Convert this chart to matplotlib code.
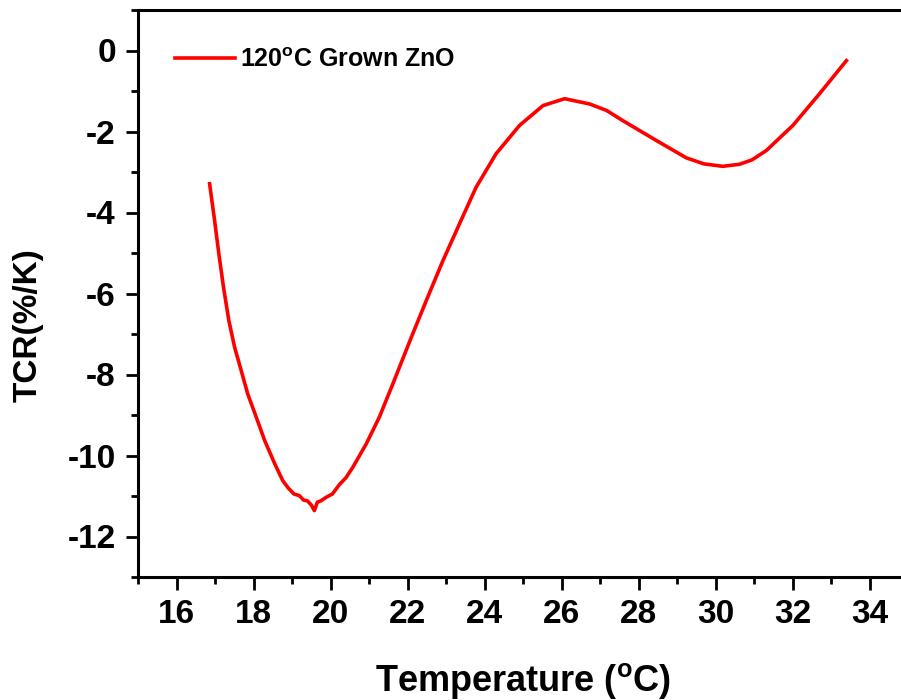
import matplotlib
matplotlib.use('Agg')
import matplotlib.pyplot as plt

plt.rcParams['font.family'] = ['Liberation Sans', 'DejaVu Sans']
plt.rcParams['font.weight'] = 'bold'
plt.rcParams['axes.unicode_minus'] = False
plt.rcParams['mathtext.fontset'] = 'custom'
plt.rcParams['mathtext.rm'] = 'Liberation Sans:bold'
plt.rcParams['mathtext.bf'] = 'Liberation Sans:bold'

# TCR curve
temp = [16.86, 16.99, 17.10, 17.22, 17.36, 17.51, 17.68, 17.85, 18.07, 18.29,
        18.55, 18.76, 18.90, 19.05, 19.19, 19.30, 19.40, 19.50, 19.58, 19.66,
        19.75, 19.89, 20.05, 20.23, 20.40, 20.58, 20.93, 21.27, 21.62, 22.10,
        22.49, 22.92, 23.35, 23.78, 24.30, 24.91, 25.52, 26.08, 26.73, 27.17,
        27.59, 28.46, 29.24, 29.70, 30.19, 30.62, 30.95, 31.32, 32.01, 32.70,
        33.40]
tcr = [-3.29, -4.20, -5.02, -5.84, -6.67, -7.33, -7.90, -8.48, -9.05, -9.63,
       -10.20, -10.62, -10.80, -10.95, -10.99, -11.10, -11.12, -11.22, -11.36, -11.15,
       -11.12, -11.03, -10.95, -10.72, -10.55, -10.29, -9.71, -9.05, -8.23, -7.08,
       -6.17, -5.19, -4.28, -3.38, -2.55, -1.85, -1.36, -1.19, -1.32, -1.48,
       -1.73, -2.22, -2.65, -2.80, -2.86, -2.81, -2.70, -2.47, -1.85, -1.07,
       -0.25]

xticks = [16, 18, 20, 22, 24, 26, 28, 30, 32, 34]
yticks = [0, -2, -4, -6, -8, -10, -12]

fig = plt.figure(figsize=(9.01, 7.0), dpi=100)
ax = fig.add_axes([138 / 901, 1 - 577 / 700, 770 / 901, 567 / 700])

ax.plot(temp, tcr, color='#ff0000', lw=2.6, solid_joinstyle='round',
        label=r'120$^{\mathrm{o}}$C Grown ZnO')

ax.set_xlim(15, 35)
ax.set_ylim(-13, 1)
ax.set_xticks(xticks)
ax.set_yticks(yticks)
ax.set_xticks(range(15, 36, 2), minor=True)
ax.set_yticks(range(-13, 2, 2), minor=True)

for s in ax.spines.values():
    s.set_linewidth(2.2)
ax.tick_params(which='major', direction='out', length=9, width=2, labelsize=24, pad=7)
ax.tick_params(which='minor', direction='out', length=5, width=2)
ax.tick_params(top=False, right=False)

ax.set_xlabel(r'Temperature ($^{\mathrm{o}}$C)', fontsize=26, fontweight='bold', labelpad=22)
ax.set_ylabel('TCR(%/K)', fontsize=24, fontweight='bold')
ax.yaxis.set_label_coords(-0.123, 0.444)

ax.legend(loc='center left', frameon=False, fontsize=18, handlelength=2.4,
          handletextpad=0.2, borderpad=0, borderaxespad=0,
          bbox_to_anchor=(0.048, 0.912))

fig.savefig('out.png', dpi=100)
